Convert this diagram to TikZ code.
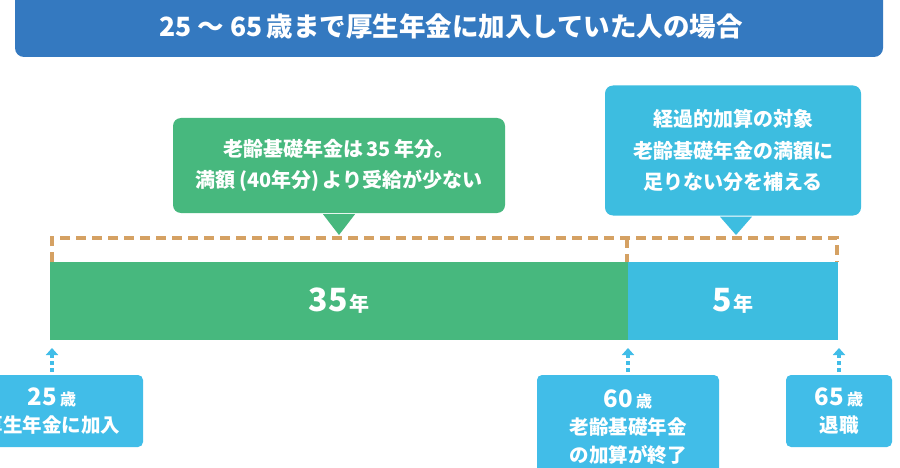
\documentclass[tikz,border=0pt]{standalone}
\usepackage{fontspec}
\setmainfont{Noto Sans CJK JP}
\usetikzlibrary{arrows.meta,calc}
\definecolor{titleblue}{HTML}{3479C0}
\definecolor{bargreen}{HTML}{47B87E}
\definecolor{barcyan}{HTML}{3DBDE0}
\definecolor{boxcyan}{HTML}{41BDE8}
\definecolor{bracketcol}{HTML}{D5A163}
\newcommand{\fsz}[2]{\fontsize{#1}{#2}\selectfont}
\begin{document}
\begin{tikzpicture}[x=1pt,y=-1pt,
  txt/.style={text=white, inner sep=0pt, align=center},
  callout/.style={rounded corners=8pt, inner sep=0pt, text=white, align=center},
  barpart/.style={inner sep=0pt, text=white, font=\bfseries},
  agebox/.style={fill=boxcyan, rounded corners=5pt, inner sep=0pt, text=white, align=center, minimum height=72pt},
  bracketline/.style={draw=bracketcol, line width=3.2pt, dash pattern=on 10pt off 6pt},
  uparrow/.style={draw=boxcyan, line width=3.4pt, dash pattern=on 4pt off 3pt, -{Triangle[width=12pt,length=7pt]}}
]
\useasboundingbox (0,0) rectangle (900,468);
\fill[white] (0,0) rectangle (900,468);

% title bar
\fill[titleblue, rounded corners=9pt] (15,-20) rectangle (883,57);
\node[txt, font=\bfseries\fsz{26.5}{30}] (title) at (451,26) {25 〜 65\,歳まで厚生年金に加入していた人の場合};

% green callout
\node[callout, fill=bargreen, minimum width=332pt, minimum height=95pt, font=\bfseries\fsz{20}{31}] (gcall) at (339,165.5)
  {老齢基礎年金は\,35\,年分。\\ 満額\,(40年分)\,より受給が少ない};
\coordinate (gtip) at (339,235);
\fill[bargreen] ($(gcall.south)+(-16,1)$) -- ($(gcall.south)+(16,1)$) -- (gtip) -- cycle;

% cyan callout
\node[callout, fill=barcyan, minimum width=256pt, minimum height=130pt, font=\bfseries\fsz{20}{31.5}] (ccall) at (733,150.5)
  {経過的加算の対象\\ 老齢基礎年金の満額に\\ 足りない分を補える};
\coordinate (ctip) at (736,235);
\fill[barcyan] ($(ccall.south)+(-13,1)$) -- ($(ccall.south)+(19,1)$) -- (ctip) -- cycle;

% bars
\node[barpart, fill=bargreen, minimum width=578pt, minimum height=78pt] (bar35) at (339,301)
  {{\fsz{32}{36}35}\,{\fsz{20}{36}年}};
\node[barpart, fill=barcyan, minimum width=210pt, minimum height=78pt] (bar5) at (733,301)
  {{\fsz{32}{36}5}\,{\fsz{20}{36}年}};

% dashed bracket
\draw[bracketline] (52,262) -- (52,238) -- (837,238) -- (837,262);
\draw[bracketline] (627,238) -- (627,262);

% age boxes
\node[agebox, minimum width=182pt, font=\bfseries\fsz{19.5}{27}] (b25) at (52,411)
  {{\fsz{24}{27}25}\,{\fsz{16}{27}歳}\\ 厚生年金に加入};
\node[agebox, minimum width=182pt, minimum height=104pt, font=\bfseries\fsz{19.5}{27.5}] (b60) at (628,427)
  {{\fsz{24}{27.5}60}\,{\fsz{16}{27.5}歳}\\ 老齢基礎年金\\ の加算が終了};
\node[agebox, minimum width=106pt, font=\bfseries\fsz{19.5}{27}] (b65) at (839,411)
  {{\fsz{24}{27}65}\,{\fsz{16}{27}歳}\\ 退職};

% arrows
\coordinate (a25) at (52,348);
\coordinate (a60) at (628,348);
\coordinate (a65) at (839,348);
\draw[uparrow] ($(b25.north)+(0,-3)$) -- (a25);
\draw[uparrow] ($(b60.north)+(0,-3)$) -- (a60);
\draw[uparrow] ($(b65.north)+(0,-3)$) -- (a65);
\end{tikzpicture}
\end{document}
